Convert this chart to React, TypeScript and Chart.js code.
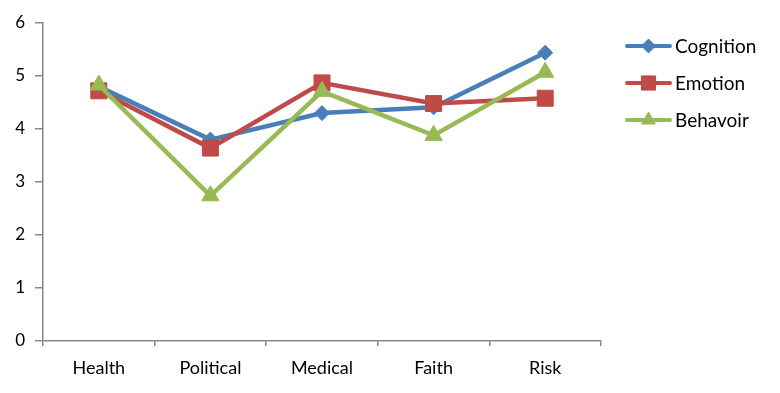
import React, { useEffect, useRef } from "react";
import { Chart, registerables } from "chart.js";

Chart.register(...registerables);

const categories = ["Health", "Political", "Medical", "Faith", "Risk"];
const cognition = [4.8, 3.8, 4.3, 4.41, 5.44];
const emotion = [4.72, 3.64, 4.87, 4.48, 4.58];
const behavoir = [4.83, 2.74, 4.71, 3.88, 5.07];
const yTicks = [0, 1, 2, 3, 4, 5, 6];

const BLUE = "#4A7EBB";
const RED = "#BE4B48";
const GREEN = "#98B954";
const AXIS = "#868686";
const FONT = "Lato, 'Open Sans', sans-serif";

function drawMarker(ctx: CanvasRenderingContext2D, style: string, x: number, y: number, r: number) {
  ctx.beginPath();
  if (style === "rectRot") {
    ctx.moveTo(x, y - r);
    ctx.lineTo(x + r, y);
    ctx.lineTo(x, y + r);
    ctx.lineTo(x - r, y);
    ctx.closePath();
  } else if (style === "rect") {
    const s = r * Math.SQRT1_2;
    ctx.rect(x - s, y - s, 2 * s, 2 * s);
  } else {
    const half = (r * Math.sqrt(3)) / 2;
    ctx.moveTo(x, y - r);
    ctx.lineTo(x + half, y + r / 2);
    ctx.lineTo(x - half, y + r / 2);
    ctx.closePath();
  }
  ctx.fill();
  ctx.stroke();
}

const legendPlugin = {
  id: "excelLegend",
  afterDraw(chart: any) {
    const ctx = chart.ctx;
    const area = chart.chartArea;
    const x0 = area.right + 26;
    const x1 = x0 + 43;
    const startY = 46;
    const step = 37;
    const sizeMap: any = { rectRot: 7, rect: 10, triangle: 8 };
    ctx.save();
    chart.data.datasets.forEach((ds: any, i: number) => {
      const y = startY + i * step;
      ctx.strokeStyle = ds.borderColor;
      ctx.lineWidth = 4;
      ctx.lineCap = "round";
      ctx.beginPath();
      ctx.moveTo(x0, y);
      ctx.lineTo(x1, y);
      ctx.stroke();
      ctx.lineCap = "butt";
      ctx.fillStyle = ds.backgroundColor;
      ctx.strokeStyle = ds.borderColor;
      ctx.lineWidth = 1;
      drawMarker(ctx, ds.pointStyle, (x0 + x1) / 2, y, sizeMap[ds.pointStyle] || 7);
      ctx.fillStyle = "#000";
      ctx.font = `19px ${FONT}`;
      ctx.textAlign = "left";
      ctx.textBaseline = "middle";
      ctx.fillText(ds.label, x1 + 5, y + 1);
    });
    ctx.restore();
  },
};

export default function App() {
  const ref = useRef<HTMLCanvasElement>(null);
  useEffect(() => {
    if (!ref.current) return;
    const chart = new Chart(ref.current, {
      type: "line",
      data: {
        labels: categories,
        datasets: [
          {
            label: "Cognition",
            data: cognition,
            borderColor: BLUE,
            backgroundColor: BLUE,
            borderWidth: 4.5,
            pointStyle: "rectRot",
            pointRadius: 7.5,
            pointBorderWidth: 1,
            order: 2,
          },
          {
            label: "Emotion",
            data: emotion,
            borderColor: RED,
            backgroundColor: RED,
            borderWidth: 4.5,
            pointStyle: "rect",
            pointRadius: 11.3,
            pointBorderWidth: 1,
            order: 1,
          },
          {
            label: "Behavoir",
            data: behavoir,
            borderColor: GREEN,
            backgroundColor: GREEN,
            borderWidth: 4.5,
            pointStyle: "triangle",
            pointRadius: 10,
            pointBorderWidth: 1,
            order: 0,
          },
        ] as any,
      },
      options: {
        animation: false,
        responsive: false,
        maintainAspectRatio: false,
        layout: { padding: { top: 23, right: 179, left: 0, bottom: 0 } },
        plugins: {
          legend: { display: false },
          tooltip: { enabled: false },
        },
        scales: {
          x: {
            type: "category",
            offset: true,
            afterFit: (s: any) => {
              s.height = 52;
            },
            grid: {
              offset: true,
              drawOnChartArea: false,
              drawTicks: true,
              tickLength: 5,
              color: AXIS,
              lineWidth: 1.5,
            },
            border: { color: AXIS, width: 1.5 },
            ticks: {
              color: "#000",
              padding: 11,
              font: { family: FONT, size: 18 },
              maxRotation: 0,
            },
          },
          y: {
            min: 0,
            max: 6,
            afterFit: (s: any) => {
              s.width = 43;
            },
            afterBuildTicks: (s: any) => {
              s.ticks = yTicks.map((v) => ({ value: v }));
            },
            grid: {
              drawOnChartArea: false,
              drawTicks: true,
              tickLength: 8,
              color: AXIS,
              lineWidth: 1.5,
            },
            border: { color: AXIS, width: 1.5 },
            ticks: {
              color: "#000",
              padding: 10,
              font: { family: FONT, size: 17 },
            },
          },
        },
      } as any,
      plugins: [legendPlugin],
    });
    return () => chart.destroy();
  }, []);
  return (
    <div style={{ position: "fixed", left: 0, top: 0, width: 780, height: 393, background: "#fff" }}>
      <canvas ref={ref} width={780} height={393} style={{ width: 780, height: 393 }} />
    </div>
  );
}
